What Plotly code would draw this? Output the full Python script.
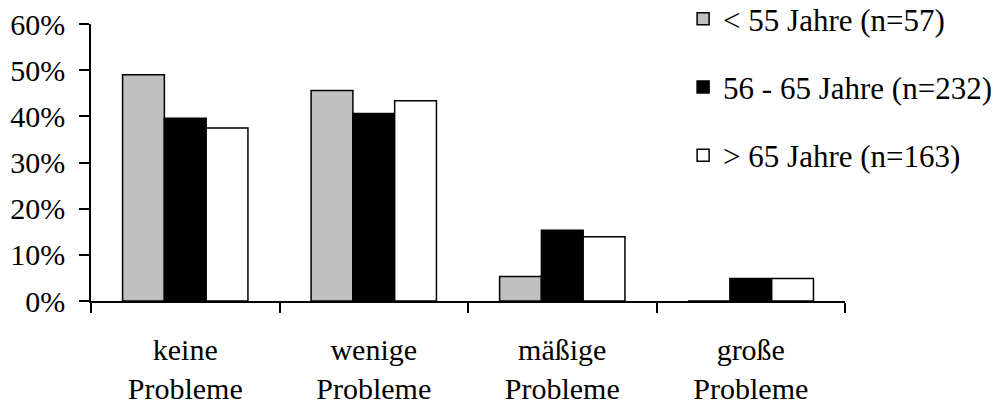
import plotly.graph_objects as go

categories = ["keine<br>Probleme", "wenige<br>Probleme", "mäßige<br>Probleme", "große<br>Probleme"]
series_names = ["< 55 Jahre (n=57)", "56 - 65 Jahre (n=232)", "> 65 Jahre (n=163)"]
under_55 = [49.0, 45.6, 5.3, 0.0]
age_56_65 = [39.6, 40.6, 15.3, 4.9]
over_65 = [37.5, 43.4, 13.9, 4.9]
colors = ["#C0C0C0", "#000000", "#FFFFFF"]
y_ticks = [0, 10, 20, 30, 40, 50, 60]
y_tick_labels = ["0%", "10%", "20%", "30%", "40%", "50%", "60%"]

FONT = "Liberation Serif"

fig = go.Figure()
for i, (name, vals) in enumerate(zip(series_names, [under_55, age_56_65, over_65])):
    fig.add_trace(go.Bar(
        x=categories, y=vals, name=name,
        marker=dict(color=colors[i], line=dict(color="black", width=1.5)),
        legendgroup=f"g{i}",
    ))

W, H = 996, 406
L, R, T, B = 90.7, 845, 24, 300.7
plot_w = W - L
plot_h = B

fig.update_layout(
    width=W, height=H,
    margin=dict(l=L, r=0, t=0, b=H - B, pad=0, autoexpand=False),
    paper_bgcolor="white", plot_bgcolor="white",
    barmode="group", bargap=0.335, bargroupgap=0,
    font=dict(family=FONT, size=30, color="black"),
    showlegend=True,
    legend=dict(
        x=(683 - L) / plot_w, xanchor="left",
        y=1.0 + 8 / plot_h, yanchor="top",
        font=dict(family=FONT, size=31, color="black"),
        tracegroupgap=25, traceorder="grouped",
        bgcolor="rgba(0,0,0,0)", borderwidth=0,
    ),
    xaxis=dict(
        type="category", tickson="boundaries", ticks="outside", ticklen=10,
        domain=[0, (R - L) / plot_w],
        tickwidth=1.5, tickcolor="black", showline=True, linecolor="black",
        linewidth=1.5, showgrid=False, zeroline=False,
        tickfont=dict(family=FONT, size=30, color="black"),
        ticklabelstandoff=21,
    ),
    yaxis=dict(
        range=[0, 60], tickvals=y_ticks, ticktext=y_tick_labels,
        domain=[0, (B - T) / plot_h],
        ticks="outside", ticklen=10, tickwidth=1.5, tickcolor="black",
        showline=True, linecolor="black", linewidth=1.5, showgrid=False,
        zeroline=False, tickfont=dict(family=FONT, size=30, color="black"),
        ticklabelstandoff=8,
    ),
)

fig.write_html("out.html")
